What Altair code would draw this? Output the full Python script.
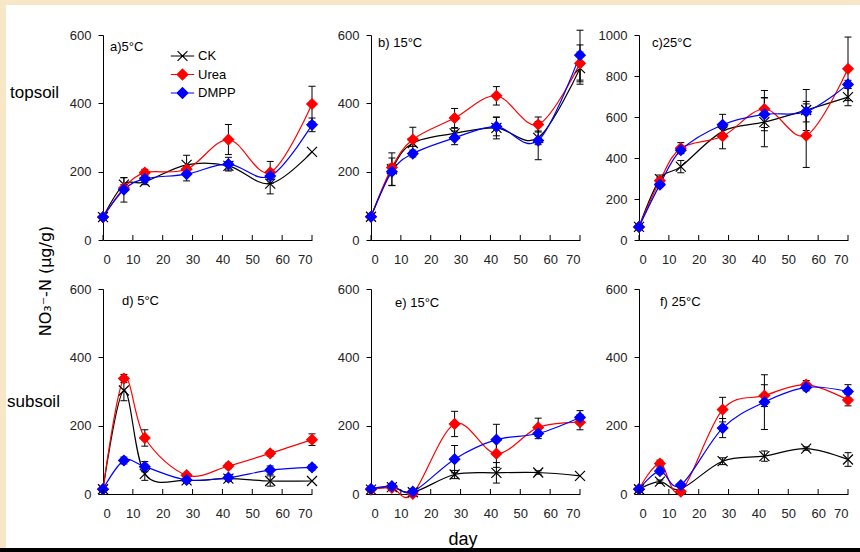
import altair as alt
import pandas as pd

FONT = "Liberation Sans"

days = [0, 7, 14, 28, 42, 56, 70]
series = ["CK", "Urea", "DMPP"]
colors = ["#000000", "#ff0000", "#0000ff"]
x_ticks = [0, 10, 20, 30, 40, 50, 60, 70]
y_ticks_600 = [0, 200, 400, 600]
y_ticks_1000 = [0, 200, 400, 600, 800, 1000]
panel_labels = ["a)5°C", "b) 15°C", "c)25°C", "d) 5°C", "e) 15°C", "f) 25°C"]
row_labels = ["topsoil", "subsoil"]
y_title = "NO₃⁻-N (μg/g)"
x_title = "day"

# values (CK, Urea, DMPP) and error half-widths per panel
a_ck = [67, 162, 170, 220, 217, 165, 258]
a_urea = [67, 152, 197, 207, 294, 198, 398]
a_dmpp = [67, 147, 179, 193, 222, 187, 337]
a_err_ck = [0, 20, 8, 28, 12, 30, 0]
a_err_urea = [0, 10, 10, 10, 44, 32, 52]
a_err_dmpp = [0, 36, 10, 20, 20, 10, 20]

b_ck = [68, 207, 284, 312, 328, 299, 503]
b_urea = [68, 212, 294, 357, 422, 338, 517]
b_dmpp = [68, 200, 253, 299, 332, 291, 541]
b_err_ck = [0, 48, 10, 15, 32, 20, 47]
b_err_urea = [0, 10, 36, 28, 27, 22, 54]
b_err_dmpp = [0, 40, 10, 20, 27, 56, 73]

c_ck = [64, 297, 358, 530, 575, 634, 697]
c_urea = [64, 289, 448, 506, 639, 509, 835]
c_dmpp = [64, 270, 438, 562, 613, 626, 759]
c_err_ck = [0, 20, 30, 15, 120, 100, 42]
c_err_urea = [0, 15, 27, 61, 90, 155, 155]
c_err_dmpp = [0, 10, 15, 51, 80, 50, 20]

d_ck = [14, 303, 59, 40, 45, 38, 38]
d_urea = [14, 338, 164, 55, 82, 119, 159]
d_dmpp = [14, 98, 80, 41, 48, 70, 78]
d_err_ck = [0, 30, 19, 5, 8, 15, 0]
d_err_urea = [0, 12, 24, 5, 8, 8, 17]
d_err_dmpp = [0, 10, 15, 5, 8, 12, 8]

e_ck = [13, 20, 5, 57, 62, 63, 53]
e_urea = [13, 18, 0, 205, 118, 195, 210]
e_dmpp = [15, 23, 7, 102, 159, 177, 224]
e_err_ck = [5, 8, 3, 12, 30, 5, 0]
e_err_urea = [0, 5, 3, 37, 40, 27, 22]
e_err_dmpp = [3, 5, 3, 40, 45, 15, 20]

f_ck = [14, 36, 15, 96, 111, 133, 101]
f_urea = [14, 89, 7, 247, 288, 320, 275]
f_dmpp = [14, 67, 26, 193, 269, 312, 300]
f_err_ck = [0, 5, 5, 10, 15, 5, 20]
f_err_urea = [0, 10, 5, 36, 32, 12, 17]
f_err_dmpp = [0, 8, 5, 28, 80, 10, 20]

W, H = 209, 205
X_PATH = "M-1,-1L1,1M-1,1L1,-1"
LEG_CK = "M-1.3,0H1.3M-0.55,-0.55L0.55,0.55M-0.55,0.55L0.55,-0.55"
LEG_DIAMOND = "M-1.3,0H1.3M0,-0.6L0.6,0L0,0.6L-0.6,0Z"
BEIGE = "#F7E7C6"


def make_df(vals, errs):
    rows = []
    for s, v_list, e_list in zip(series, vals, errs):
        for d, v, e in zip(days, v_list, e_list):
            rows.append({"day": d, "series": s, "value": v, "err": e})
    return pd.DataFrame(rows)


def panel(df, ymax, yticks, label, lab_pos, with_legend=False, extras=()):
    xs = alt.Scale(domain=[0, 70], nice=False)
    ys = alt.Scale(domain=[0, ymax], nice=False)
    x_axis = alt.Axis(values=x_ticks, ticks=False, labelPadding=13, title=None, grid=False,
                      domainColor="black", domainWidth=1, labelFontSize=13,
                      labelColor="#222222", labelFont=FONT, format="d")
    y_axis = alt.Axis(values=yticks, tickSize=5, tickColor="black", labelPadding=7, title=None,
                      grid=False, domainColor="black", domainWidth=1, labelFontSize=13,
                      labelColor="#222222", labelFont=FONT, format="d")

    def X(field):
        return alt.X(field, scale=xs, axis=x_axis)

    def Y(field):
        return alt.Y(field, scale=ys, axis=y_axis)

    base = alt.Chart(df)
    layers = list(extras)
    for s, c in zip(series, colors):
        layers.append(base.transform_filter(alt.datum.series == s).mark_line(
            interpolate="cardinal", strokeWidth=1.2, color=c).encode(x=X("day:Q"), y=Y("value:Q")))
    eb = base.transform_filter("datum.err > 0").transform_calculate(
        lo="datum.value - datum.err", hi="datum.value + datum.err")
    layers.append(eb.mark_rule(color="black", strokeWidth=1).encode(
        x=X("day:Q"), y=Y("lo:Q"), y2="hi:Q"))
    for fld in ["lo:Q", "hi:Q"]:
        layers.append(eb.mark_tick(orient="horizontal", size=7, thickness=1, color="black",
                                   opacity=1).encode(x=X("day:Q"), y=Y(fld)))
    for s, c in zip(series, colors):
        sub = base.transform_filter(alt.datum.series == s)
        if s == series[0]:
            m = sub.mark_point(shape=X_PATH, filled=False, size=100, strokeWidth=1.2,
                               color=c, opacity=1)
        else:
            m = sub.mark_point(shape="diamond", filled=True, size=110, strokeWidth=1.2,
                               fill=c, stroke=c, opacity=1)
        layers.append(m.encode(x=X("day:Q"), y=Y("value:Q")))
    layers.append(alt.Chart(pd.DataFrame({"day": x_ticks})).mark_rule(
        color="black", strokeWidth=1).encode(x=X("day:Q"), y=alt.value(H), y2=alt.value(H - 5)))
    layers.append(alt.Chart(pd.DataFrame({"t": [label]})).mark_text(
        align="left", baseline="middle", fontSize=13, font=FONT, color="black").encode(
        x=alt.value(lab_pos[0]), y=alt.value(lab_pos[1]), text="t:N"))
    if with_legend:
        leg = alt.Legend(
            title=None, orient="none", legendX=69.5, legendY=11, symbolSize=324,
            labelOffset=5.5, labelFontSize=13, labelFont=FONT, labelColor="black",
            rowPadding=0.5, padding=0, symbolStrokeWidth=1.2, symbolOpacity=1)
        layers.append(base.transform_filter("false").mark_point(
            filled=True, size=324, strokeWidth=1.2, opacity=1).encode(
            fill=alt.Fill("series:N", scale=alt.Scale(domain=series, range=colors), legend=leg),
            stroke=alt.Stroke("series:N", scale=alt.Scale(domain=series, range=colors), legend=leg),
            shape=alt.Shape("series:N", scale=alt.Scale(
                domain=series, range=[LEG_CK, LEG_DIAMOND, LEG_DIAMOND]), legend=leg)))
    return alt.layer(*layers).properties(width=W, height=H)


def text_layer(t, x, y, size=17, angle=0, align="left", font=FONT):
    kw = dict(align=align, baseline="middle", fontSize=size, font=font, color="black")
    if angle:
        kw["angle"] = angle
    return alt.Chart(pd.DataFrame({"t": [t]})).mark_text(**kw).encode(
        x=alt.value(x), y=alt.value(y), text="t:N")


def band(x, x2, y, y2, color):
    return alt.Chart(pd.DataFrame({"k": [0]})).mark_rect(color=color, strokeWidth=0).encode(
        x=alt.value(x), x2=alt.value(x2), y=alt.value(y), y2=alt.value(y2))


pa = panel(make_df([a_ck, a_urea, a_dmpp], [a_err_ck, a_err_urea, a_err_dmpp]), 600, y_ticks_600,
           panel_labels[0], (7, 12), with_legend=True,
           extras=[band(-103, -97, -35, 517, BEIGE),
                   band(-103, 757, -35, -30, BEIGE),
                   text_layer(row_labels[0], -93, 58)])
pb = panel(make_df([b_ck, b_urea, b_dmpp], [b_err_ck, b_err_urea, b_err_dmpp]), 600, y_ticks_600,
           panel_labels[1], (7, 8))
pc = panel(make_df([c_ck, c_urea, c_dmpp], [c_err_ck, c_err_urea, c_err_dmpp]), 1000, y_ticks_1000,
           panel_labels[2], (13, 8))
pd_ = panel(make_df([d_ck, d_urea, d_dmpp], [d_err_ck, d_err_urea, d_err_dmpp]), 600, y_ticks_600,
            panel_labels[3], (19, 12),
            extras=[band(-103, 757, 259, 263, "black"),
                    text_layer(row_labels[1], -96, 113),
                    text_layer(y_title, -57, -8, size=16, angle=270, align="center",
                               font="DejaVu Sans")])
pe = panel(make_df([e_ck, e_urea, e_dmpp], [e_err_ck, e_err_urea, e_err_dmpp]), 600, y_ticks_600,
           panel_labels[4], (24, 14),
           extras=[text_layer(x_title, 92, 251, size=18, align="center")])
pf = panel(make_df([f_ck, f_urea, f_dmpp], [f_err_ck, f_err_urea, f_err_dmpp]), 600, y_ticks_600,
           panel_labels[5], (21, 13))

chart = alt.concat(pa, pb, pc, pd_, pe, pf, columns=3,
                   spacing={"row": 49, "column": 59}, bounds="flush").properties(
    background="white",
    padding={"left": 0, "top": 0, "right": 0, "bottom": 0},
).configure_view(stroke=None)

chart.save("out.html", embed_options={"renderer": "svg", "actions": False})
